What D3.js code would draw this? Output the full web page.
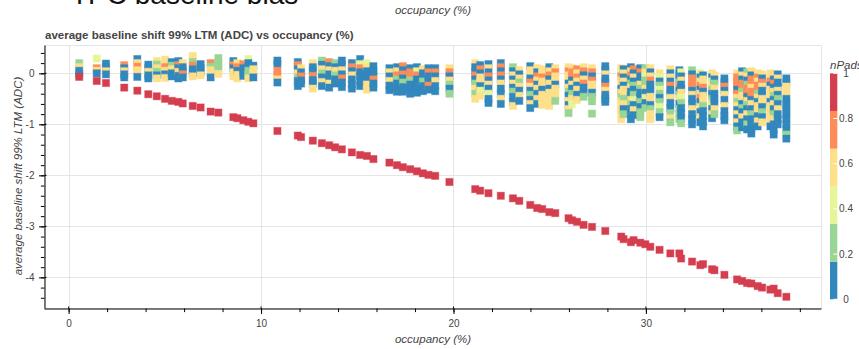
<!DOCTYPE html>
<html>
<head>
<meta charset="utf-8">
<script src="https://cdn.jsdelivr.net/npm/d3@7"></script>
<style>
  html, body { margin: 0; padding: 0; background: #fff; }
  svg { display: block; font-family: "Liberation Sans", Arial, Helvetica, sans-serif; }
</style>
</head>
<body>
<svg id="chart" width="859" height="349"></svg>
<script>
// Occupancy (%) of each run
const occupancy = [0.55,1.46,1.94,2.89,3.57,4.14,4.58,5.01,5.36,5.70,5.93,6.45,6.86,7.38,7.78,8.56,8.77,9.08,9.34,9.60,
  10.85,11.91,12.08,12.69,13.16,13.54,13.85,14.20,14.72,15.15,15.50,15.84,16.67,17.06,17.37,17.75,18.10,18.41,18.70,19.05,
  19.79,21.13,21.39,21.82,22.46,23.09,23.42,23.99,24.35,24.61,24.98,25.29,25.98,26.16,26.42,26.76,27.20,27.89,28.72,28.84,
  29.22,29.36,29.71,29.97,30.23,30.71,31.27,31.74,31.83,32.40,32.83,32.97,33.44,33.56,34.08,34.74,35.00,35.26,35.48,35.81,
  36.04,36.47,36.64,36.85,37.30];

// Baseline shift of the group with all pads (nPads = 1), one per run
const shiftAllPads = [-0.07,-0.15,-0.19,-0.28,-0.34,-0.41,-0.45,-0.50,-0.54,-0.56,-0.59,-0.64,-0.67,-0.75,-0.77,-0.86,-0.88,-0.92,-0.95,-0.98,
  -1.13,-1.22,-1.25,-1.32,-1.37,-1.41,-1.45,-1.49,-1.55,-1.60,-1.62,-1.68,-1.75,-1.80,-1.84,-1.88,-1.92,-1.96,-1.99,-2.01,
  -2.13,-2.27,-2.30,-2.35,-2.40,-2.45,-2.50,-2.58,-2.64,-2.66,-2.72,-2.74,-2.84,-2.88,-2.91,-2.97,-3.01,-3.09,-3.20,-3.25,
  -3.31,-3.27,-3.32,-3.35,-3.40,-3.46,-3.53,-3.53,-3.63,-3.69,-3.76,-3.74,-3.84,-3.86,-3.95,-4.04,-4.07,-4.11,-4.12,-4.17,
  -4.20,-4.24,-4.22,-4.31,-4.38];

// Per run: [baseline shift (ADC), nPads fraction] of the partial pad groups
const padGroups = [
  [[.20,.25],[.12,.58],[.05,.1],[-.02,.08]],
  [[.29,.42],[.1,.75],[.05,.6],[0,.1]],
  [[.19,.1],[.12,.12],[.04,.58],[-.02,.1]],
  [[.16,.75],[.1,.1],[.04,.6],[-.02,.08],[-.08,.12]],
  [[.28,.1],[.2,.55],[.13,.75],[.06,.6],[0,.58],[-.07,.1]],
  [[.17,.1],[.1,.12],[.03,.6],[-.04,.08],[-.1,.1]],
  [[.24,.58],[.17,.25],[.1,.6],[.03,.28],[-.04,.1],[-.1,.55]],
  [[.27,.6],[.2,.55],[.12,.75],[.05,.6],[-.02,.1],[-.09,.58]],
  [[.22,.1],[.15,.25],[.08,.6],[0,.1],[-.06,.12]],
  [[.24,.1],[.16,.75],[.1,.1],[.03,.58],[-.05,.08],[-.1,.1]],
  [[.2,.6],[.12,.1],[.05,.12],[-.02,.72],[-.08,.1]],
  [[.34,.58],[.22,.25],[.15,.75],[.08,.1],[0,.1],[-.06,.6]],
  [[.18,.1],[.1,.12],[.03,.08],[-.04,.6]],
  [[.2,.75],[.13,.25],[.06,.58],[-.02,.6],[-.08,.1]],
  [[.3,.25],[.22,.28],[.14,.22],[.06,.25],[-.01,.6]],
  [[.24,.1],[.16,.78],[.1,.12],[.02,.58],[-.06,.6]],
  [[.2,.6],[.12,.72],[.05,.1],[-.03,.55],[-.1,.6]],
  [[.18,.75],[.1,.1],[.02,.12],[-.05,.08]],
  [[.28,.42],[.2,.1],[.13,.12],[.05,.25],[-.03,.25],[-.1,.58]],
  [[.15,.1],[.08,.6],[0,.55],[-.08,.1]],
  [[.25,.1],[.18,.12],[.05,.75],[-.03,.72],[-.12,.6],[-.18,.1]],
  [[.22,.1],[.16,.75],[.08,.12],[0,.58],[-.08,.25],[-.15,.1],[-.25,.08]],
  [[.1,.6],[.02,.1],[-.06,.75],[-.14,.1],[-.2,.12]],
  [[.2,.58],[.12,.1],[.05,.12],[-.05,.75],[-.13,.1],[-.2,.08],[-.3,.6]],
  [[.25,.25],[.17,.1],[.08,.6],[0,.22],[-.08,.1],[-.17,.58],[-.25,.12]],
  [[.22,.75],[.14,.1],[.06,.6],[-.02,.1],[-.1,.12],[-.2,.55],[-.28,.1]],
  [[.2,.25],[.12,.1],[.05,.58],[-.04,.28],[-.12,.1],[-.2,.08]],
  [[.25,.1],[.16,.12],[.06,.6],[-.02,.1],[-.1,.75],[-.18,.1],[-.27,.08]],
  [[.2,.1],[.12,.78],[.04,.12],[-.04,.58],[-.12,.1],[-.22,.08],[-.3,.1]],
  [[.28,.1],[.18,.42],[.1,.75],[.02,.12],[-.06,.1],[-.15,.08],[-.25,.1]],
  [[.2,.4],[.12,.6],[.04,.1],[-.05,.12],[-.14,.1],[-.22,.58],[-.32,.6]],
  [[.14,.1],[.05,.08],[-.03,.12],[-.12,.75],[-.2,.1],[-.28,.1]],
  [[.1,.1],[.02,.6],[-.06,.12],[-.15,.58],[-.24,.1],[-.33,.08]],
  [[.12,.1],[.04,.58],[-.04,.75],[-.12,.25],[-.2,.1],[-.28,.12],[-.36,.1]],
  [[.14,.78],[.06,.1],[-.02,.72],[-.1,.12],[-.18,.25],[-.27,.1],[-.36,.08]],
  [[.1,.1],[.02,.75],[-.06,.7],[-.14,.25],[-.22,.1],[-.3,.12],[-.4,.1]],
  [[.12,.1],[.04,.42],[-.04,.75],[-.12,.1],[-.2,.12],[-.28,.08],[-.38,.1]],
  [[.08,.6],[0,.1],[-.08,.12],[-.16,.25],[-.25,.1],[-.35,.08]],
  [[.1,.1],[.02,.78],[-.06,.1],[-.15,.12],[-.24,.72],[-.32,.1]],
  [[.1,.12],[.02,.75],[-.06,.1],[-.15,.58],[-.25,.1],[-.35,.08]],
  [[.1,.6],[.02,.75],[-.06,.1],[-.14,.58],[-.22,.25],[-.3,.1],[-.4,.28]],
  [[.2,.58],[.12,.1],[.04,.12],[-.04,.75],[-.12,.1],[-.2,.25],[-.3,.6],[-.4,.25],[-.5,.55]],
  [[.16,.1],[.08,.78],[0,.1],[-.08,.6],[-.16,.58],[-.25,.12],[-.34,.42],[-.44,.6]],
  [[.18,.1],[.1,.6],[.02,.12],[-.06,.75],[-.14,.1],[-.22,.58],[-.3,.1],[-.4,.4],[-.5,.08],[-.58,.1]],
  [[.2,.1],[.12,.75],[.04,.12],[-.04,.72],[-.12,.1],[-.2,.6],[-.3,.08],[-.4,.1],[-.5,.58],[-.6,.12]],
  [[.12,.25],[.04,.1],[-.04,.6],[-.12,.12],[-.2,.55],[-.28,.1],[-.36,.28],[-.46,.08],[-.56,.1],[-.64,.6]],
  [[.06,.58],[-.02,.1],[-.1,.6],[-.18,.25],[-.26,.55],[-.34,.12],[-.44,.6],[-.54,.1]],
  [[.14,.1],[.06,.6],[-.02,.58],[-.1,.12],[-.18,.75],[-.26,.6],[-.34,.1],[-.42,.25],[-.52,.08],[-.6,.58],[-.68,.1]],
  [[.1,.6],[.02,.1],[-.06,.78],[-.14,.58],[-.22,.12],[-.3,.6],[-.4,.1],[-.5,.55],[-.6,.1]],
  [[.08,.58],[0,.6],[-.08,.72],[-.16,.55],[-.24,.6],[-.32,.1],[-.42,.58],[-.52,.6],[-.62,.55]],
  [[.12,.1],[.04,.6],[-.04,.75],[-.12,.12],[-.2,.58],[-.3,.1],[-.38,.6],[-.46,.55],[-.56,.6],[-.64,.58]],
  [[.1,.6],[.02,.78],[-.06,.58],[-.14,.6],[-.22,.1],[-.3,.55],[-.38,.6],[-.46,.58],[-.54,.25]],
  [[.12,.58],[.04,.75],[-.04,.6],[-.12,.55],[-.2,.1],[-.28,.6],[-.36,.25],[-.44,.12],[-.54,.58],[-.62,.1],[-.7,.6],[-.78,.28]],
  [[.1,.6],[.02,.72],[-.06,.78],[-.14,.1],[-.22,.58],[-.3,.12],[-.4,.25],[-.5,.6],[-.6,.42]],
  [[.08,.75],[0,.6],[-.08,.72],[-.16,.58],[-.24,.1],[-.32,.6],[-.42,.12],[-.52,.55]],
  [[.12,.58],[.04,.78],[-.04,.1],[-.12,.6],[-.2,.75],[-.28,.12],[-.38,.1],[-.46,.25]],
  [[.1,.6],[.02,.75],[-.06,.1],[-.14,.72],[-.22,.58],[-.3,.6],[-.38,.12],[-.46,.25],[-.55,.28],[-.79,.25]],
  [[.14,.1],[.06,.12],[-.02,.58],[-.1,.1],[-.18,.08],[-.26,.75],[-.34,.6],[-.42,.1],[-.5,.12],[-.56,.1]],
  [[.1,.58],[.02,.42],[-.06,.75],[-.14,.6],[-.22,.55],[-.3,.1],[-.38,.6],[-.46,.25],[-.55,.58],[-.64,.6],[-.72,.55],[-.8,.6],[-.9,.58]],
  [[.08,.1],[0,.6],[-.08,.12],[-.16,.58],[-.24,.1],[-.32,.6],[-.42,.55],[-.5,.25],[-.6,.6],[-.7,.1],[-.8,.28]],
  [[.12,.1],[.04,.58],[-.04,.78],[-.12,.12],[-.2,.25],[-.28,.6],[-.36,.1],[-.44,.08],[-.52,.55],[-.6,.22],[-.7,.1],[-.8,.12],[-.9,.1]],
  [[.08,.75],[0,.1],[-.08,.6],[-.16,.12],[-.24,.25],[-.32,.1],[-.42,.28],[-.52,.42],[-.62,.1],[-.72,.58],[-.82,.08]],
  [[.1,.1],[.02,.72],[-.06,.12],[-.14,.1],[-.22,.6],[-.3,.25],[-.38,.08],[-.46,.1],[-.56,.25],[-.66,.12],[-.76,.22],[-.86,.28]],
  [[.1,.25],[.02,.58],[-.06,.4],[-.14,.25],[-.22,.28],[-.3,.6],[-.38,.1],[-.48,.42],[-.58,.12],[-.68,.25]],
  [[.1,.6],[.02,.1],[-.06,.58],[-.14,.75],[-.22,.12],[-.3,.1],[-.38,.08],[-.46,.6],[-.54,.55],[-.62,.1],[-.7,.25],[-.8,.58],[-.9,.6]],
  [[0,.58],[-.08,.42],[-.16,.1],[-.24,.25],[-.32,.4],[-.4,.28],[-.48,.12],[-.56,.25],[-.66,.42],[-.76,.22],[-.86,.1]],
  [[.08,.6],[0,.1],[-.08,.58],[-.16,.12],[-.24,.75],[-.32,.1],[-.4,.08],[-.48,.6],[-.58,.1],[-.68,.12],[-.78,.25],[-.88,.55],[-.96,.28]],
  [[.06,.1],[-.02,.12],[-.1,.08],[-.18,.25],[-.26,.78],[-.34,.1],[-.42,.22],[-.5,.6],[-.6,.1],[-.7,.25],[-.8,.28],[-.9,.25]],
  [[.02,.42],[-.06,.1],[-.14,.58],[-.22,.12],[-.3,.1],[-.38,.6],[-.48,.4],[-.58,.25],[-.68,.08],[-.78,.1],[-.88,.12],[-.98,.25]],
  [[.06,.25],[-.02,.1],[-.1,.75],[-.18,.78],[-.26,.72],[-.34,.12],[-.42,.6],[-.5,.1],[-.6,.08],[-.7,.58],[-.8,.1],[-.9,.12],[-1,.1]],
  [[0,.42],[-.08,.1],[-.16,.6],[-.24,.75],[-.32,.12],[-.4,.58],[-.48,.78],[-.56,.1],[-.66,.6],[-.76,.08],[-.86,.55],[-.96,.1]],
  [[-.04,.1],[-.12,.58],[-.2,.6],[-.28,.72],[-.36,.12],[-.44,.55],[-.54,.6],[-.64,.25],[-.74,.1],[-.84,.08],[-.94,.12],[-1.04,.1]],
  [[0,.6],[-.08,.1],[-.16,.42],[-.24,.58],[-.32,.25],[-.4,.12],[-.5,.28],[-.6,.6],[-.7,.1],[-.8,.55],[-.88,.08]],
  [[-.04,.58],[-.12,.1],[-.2,.25],[-.3,.6],[-.4,.12],[-.5,.1],[-.6,.08],[-.7,.55],[-.8,.22]],
  [[-.1,.1],[-.18,.12],[-.26,.75],[-.34,.1],[-.42,.6],[-.52,.08],[-.64,.58],[-.74,.1],[-.84,.12],[-.92,.1]],
  [[0,.6],[-.08,.75],[-.16,.78],[-.24,.72],[-.32,.1],[-.4,.75],[-.48,.58],[-.56,.25],[-.64,.6],[-.72,.12],[-.8,.55],[-.88,.1],[-.96,.6],[-1.04,.08],[-1.12,.28]],
  [[.04,.1],[-.04,.58],[-.12,.12],[-.2,.78],[-.28,.72],[-.36,.25],[-.44,.6],[-.52,.55],[-.6,.1],[-.68,.22],[-.76,.08],[-.86,.6],[-.96,.1],[-1.06,.12]],
  [[.02,.25],[-.06,.6],[-.14,.1],[-.22,.28],[-.3,.75],[-.38,.8],[-.46,.12],[-.54,.58],[-.62,.25],[-.7,.1],[-.8,.6],[-.9,.08],[-1,.22],[-1.1,.1]],
  [[.04,.58],[-.04,.1],[-.12,.75],[-.2,.72],[-.28,.6],[-.36,.78],[-.44,.75],[-.52,.12],[-.6,.55],[-.7,.1],[-.8,.25],[-.9,.08],[-1,.1],[-1.1,.12],[-1.18,.1]],
  [[0,.6],[-.08,.75],[-.16,.58],[-.24,.72],[-.32,.78],[-.4,.25],[-.48,.6],[-.56,.1],[-.64,.55],[-.74,.6],[-.84,.12],[-.94,.58],[-1.04,.1]],
  [[-.02,.58],[-.1,.1],[-.18,.75],[-.26,.6],[-.34,.12],[-.42,.08],[-.5,.55],[-.58,.6],[-.66,.1],[-.76,.25],[-.86,.12],[-.96,.58]],
  [[0,.6],[-.08,.55],[-.16,.75],[-.24,.1],[-.32,.58],[-.4,.6],[-.48,.55],[-.56,.12],[-.64,.6],[-.72,.58],[-.8,.55],[-.88,.6],[-.96,.58],[-1.04,.1]],
  [[-.04,.58],[-.12,.1],[-.2,.72],[-.28,.12],[-.36,.6],[-.44,.25],[-.52,.1],[-.6,.55],[-.7,.08],[-.8,.28],[-.9,.6],[-1,.1],[-1.1,.12],[-1.2,.1]],
  [[-.02,.1],[-.1,.6],[-.18,.12],[-.26,.1],[-.34,.58],[-.42,.08],[-.5,.25],[-.6,.1],[-.7,.55],[-.8,.12],[-.9,.1],[-1,.08]],
  [[-.1,.1],[-.18,.12],[-.26,.58],[-.34,.6],[-.42,.55],[-.5,.1],[-.58,.08],[-.66,.12],[-.74,.1],[-.82,.08],[-.9,.12],[-1,.1],[-1.1,.08],[-1.2,.25],[-1.28,.1]]
];

// Axis ticks and colour bar
const xTicks = [0, 10, 20, 30];
const yTicks = [-4, -3, -2, -1, 0];
const colorTicks = [0, 0.2, 0.4, 0.6, 0.8, 1];
const palette = ["#3288bd", "#99d594", "#e6f598", "#fee08b", "#fc8d59", "#d53e4f"];

const svg = d3.select("#chart");
const frame = { left: 44, right: 821, top: 45, bottom: 308 };
const textColor = "#444";

const x = d3.scaleLinear().domain([-1.28, 39.1]).range([frame.left, frame.right]);
const y = d3.scaleLinear().domain([-4.6, 0.555]).range([frame.bottom, frame.top]);
const color = d3.scaleQuantize().domain([0, 1]).range(palette);

svg.append("rect").attr("width", 859).attr("height", 349).attr("fill", "#fff");

// Header texts
svg.append("text").attr("x", 71).attr("y", 4)
  .attr("font-size", 28).attr("fill", "#111").text("TPC baseline bias");
svg.append("text").attr("x", 433).attr("y", 14).attr("text-anchor", "middle")
  .attr("font-size", 11.5).attr("font-style", "italic").attr("fill", textColor)
  .text("occupancy (%)");
svg.append("text").attr("x", 45).attr("y", 39)
  .attr("font-size", 11.5).attr("font-weight", "bold").attr("fill", textColor)
  .text("average baseline shift 99% LTM (ADC) vs occupancy (%)");

// Grid
const grid = svg.append("g").attr("stroke", "#e5e5e5").attr("stroke-width", 1);
grid.selectAll(".gx").data(xTicks).join("line")
  .attr("x1", d => Math.round(x(d)) + 0.5).attr("x2", d => Math.round(x(d)) + 0.5)
  .attr("y1", frame.top).attr("y2", frame.bottom);
grid.selectAll(".gy").data(yTicks).join("line")
  .attr("y1", d => Math.round(y(d)) + 0.5).attr("y2", d => Math.round(y(d)) + 0.5)
  .attr("x1", frame.left).attr("x2", frame.right);
// frame outline
svg.append("rect").attr("x", frame.left + 0.5).attr("y", frame.top + 0.5)
  .attr("width", frame.right - frame.left).attr("height", frame.bottom - frame.top)
  .attr("fill", "none").attr("stroke", "#e5e5e5");

// Markers
const S = 7.2;
const points = [];
occupancy.forEach((occ, i) => {
  (padGroups[i] || []).forEach(([shift, pads]) => points.push({ occ, shift, pads }));
});
occupancy.forEach((occ, i) => points.push({ occ, shift: shiftAllPads[i], pads: 1 }));

svg.append("g").selectAll("rect").data(points).join("rect")
  .attr("x", d => x(d.occ) - S / 2).attr("y", d => y(d.shift) - S / 2)
  .attr("width", S).attr("height", S)
  .attr("fill", d => color(d.pads))
  .attr("stroke", d => color(d.pads)).attr("stroke-opacity", 0.4).attr("stroke-width", 1);

// Axes
function styleAxis(g) {
  g.selectAll("path.domain").attr("stroke", "#000");
  g.selectAll(".tick line").attr("stroke", "#000");
  g.selectAll(".tick text").attr("fill", textColor).attr("font-size", 10)
    .attr("font-family", '"Liberation Sans", Arial, sans-serif');
}
const xAxisG = svg.append("g").attr("transform", `translate(0,${frame.bottom + 0.5})`);
xAxisG.call(d3.axisBottom(x).tickValues(d3.range(0, 40, 2)).tickFormat("").tickSize(3.6).tickSizeOuter(0));
xAxisG.append("g").call(d3.axisBottom(x).tickValues(xTicks).tickSize(5.5).tickPadding(6).tickSizeOuter(0))
  .call(g => g.select("path.domain").remove());
xAxisG.call(styleAxis);
// inward part of major ticks
xAxisG.selectAll(".inx").data(xTicks).join("line")
  .attr("x1", d => x(d)).attr("x2", d => x(d)).attr("y1", 0).attr("y2", -2).attr("stroke", "#000");

const yAxisG = svg.append("g").attr("transform", `translate(${frame.left + 0.5},0)`);
yAxisG.call(d3.axisLeft(y).tickValues(d3.range(-4.4, 0.6, 0.2).map(v => +v.toFixed(1))).tickFormat("").tickSize(3.6).tickSizeOuter(0));
yAxisG.append("g").call(d3.axisLeft(y).tickValues(yTicks).tickSize(5.5).tickPadding(4.5).tickSizeOuter(0).tickFormat(d3.format("d")))
  .call(g => g.select("path.domain").remove());
yAxisG.call(styleAxis);
yAxisG.selectAll(".iny").data(yTicks).join("line")
  .attr("y1", d => y(d)).attr("y2", d => y(d)).attr("x1", 0).attr("x2", 2).attr("stroke", "#000");
// plain hyphen for negative tick labels
yAxisG.selectAll(".tick text").text(function () { return d3.select(this).text().replace("\u2212", "-"); });

// Axis labels
svg.append("text").attr("x", 433).attr("y", 343).attr("text-anchor", "middle")
  .attr("font-size", 11.5).attr("font-style", "italic").attr("fill", textColor)
  .text("occupancy (%)");
svg.append("text").attr("transform", `translate(22,${176}) rotate(-90)`).attr("text-anchor", "middle")
  .attr("font-size", 11.5).attr("font-style", "italic").attr("fill", textColor)
  .text("average baseline shift 99% LTM (ADC)");

// Colour bar
const cb = { x: 830, w: 7.3, top: 73.3, bottom: 299.3 };
const cy = d3.scaleLinear().domain([0, 1]).range([cb.bottom, cb.top]);
const bins = palette.map((c, i) => ({ c, lo: i / palette.length, hi: (i + 1) / palette.length }));
svg.append("g").selectAll("rect").data(bins).join("rect")
  .attr("x", cb.x).attr("width", cb.w)
  .attr("y", d => cy(d.hi)).attr("height", d => cy(d.lo) - cy(d.hi))
  .attr("fill", d => d.c);
svg.append("g").selectAll("line").data(colorTicks).join("line")
  .attr("x1", cb.x + cb.w - 4).attr("x2", cb.x + cb.w)
  .attr("y1", d => cy(d)).attr("y2", d => cy(d))
  .attr("stroke", "#fff").attr("stroke-width", 1);
svg.append("text").attr("x", 830).attr("y", 69)
  .attr("font-size", 11.5).attr("font-style", "italic").attr("fill", textColor).text("nPads");
svg.append("g").selectAll("text").data(colorTicks).join("text")
  .attr("x", 846).attr("y", d => cy(d)).attr("dy", "0.35em").attr("text-anchor", "middle")
  .attr("font-size", 10).attr("fill", textColor)
  .text(d => d3.format("~g")(d));
</script>
</body>
</html>
